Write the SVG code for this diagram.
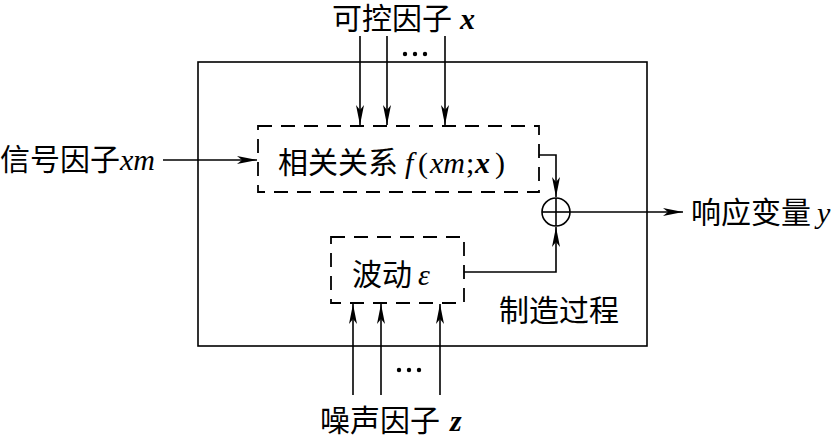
<svg xmlns="http://www.w3.org/2000/svg" width="833" height="440" viewBox="0 0 833 440">
<style>
text{font-family:"Liberation Serif","Noto Sans CJK SC",serif;font-size:30px;fill:#000}
.i{font-style:italic}
.b{font-weight:bold}
.ln{stroke:#000;stroke-width:1.6;fill:none}
.dash{stroke:#000;stroke-width:1.8;fill:none;stroke-dasharray:14,9}
</style>
<defs>
<marker id="a" viewBox="0 0 20 8" refX="20" refY="4" markerWidth="20" markerHeight="8" markerUnits="userSpaceOnUse" orient="auto">
<path d="M0,0 L20,4 L0,8 L5,4 Z" fill="#000"/>
</marker>
</defs>
<g id="process">
<rect x="198" y="62" width="449" height="284" class="ln"/>
<text x="499" y="321">制造过程</text>
</g>
<g id="relation">
<rect x="258" y="126" width="281" height="66" class="dash"/>
<text x="278" y="173">相关关系<tspan x="405" class="i">f</tspan><tspan x="418">(</tspan><tspan class="i" x="430">xm</tspan><tspan x="466">;</tspan><tspan class="i b" x="475">x</tspan><tspan x="495">)</tspan></text>
</g>
<g id="fluctuation">
<rect x="331" y="237" width="133" height="66" class="dash"/>
<text x="352" y="285">波动<tspan x="418" class="i">ε</tspan></text>
</g>
<g id="sum">
<circle cx="556" cy="212" r="14" class="ln"/>
<line x1="542" y1="212" x2="570" y2="212" class="ln"/>
<line x1="556" y1="198" x2="556" y2="226" class="ln"/>
</g>
<g id="controllable">
<text x="332" y="29">可控因子<tspan x="460" class="i b">x</tspan></text>
</g>
<g id="signal">
<text x="0" y="170">信号因子<tspan class="i">xm</tspan></text>
</g>
<g id="noise">
<text x="320" y="431">噪声因子<tspan x="450" class="i b">z</tspan></text>
</g>
<g id="response">
<text x="691" y="223">响应变量<tspan x="817" class="i">y</tspan></text>
</g>
<g id="connectors">
<line x1="360" y1="36" x2="360" y2="125" class="ln" marker-end="url(#a)"/>
<line x1="387" y1="36" x2="387" y2="125" class="ln" marker-end="url(#a)"/>
<line x1="445" y1="36" x2="445" y2="125" class="ln" marker-end="url(#a)"/>
<circle cx="405" cy="54" r="2.2"/><circle cx="415" cy="54" r="2.2"/><circle cx="425" cy="54" r="2.2"/>
<line x1="163" y1="160" x2="257" y2="160" class="ln" marker-end="url(#a)"/>
<polyline points="539,155 556,155 556,197" class="ln" marker-end="url(#a)"/>
<polyline points="464,272 556,272 556,227" class="ln" marker-end="url(#a)"/>
<line x1="570" y1="212" x2="683" y2="212" class="ln" marker-end="url(#a)"/>
<line x1="353" y1="395" x2="353" y2="304" class="ln" marker-end="url(#a)"/>
<line x1="381" y1="395" x2="381" y2="304" class="ln" marker-end="url(#a)"/>
<line x1="440" y1="395" x2="440" y2="304" class="ln" marker-end="url(#a)"/>
<circle cx="399" cy="370" r="2.2"/><circle cx="409" cy="370" r="2.2"/><circle cx="419" cy="370" r="2.2"/>
</g>
</svg>
